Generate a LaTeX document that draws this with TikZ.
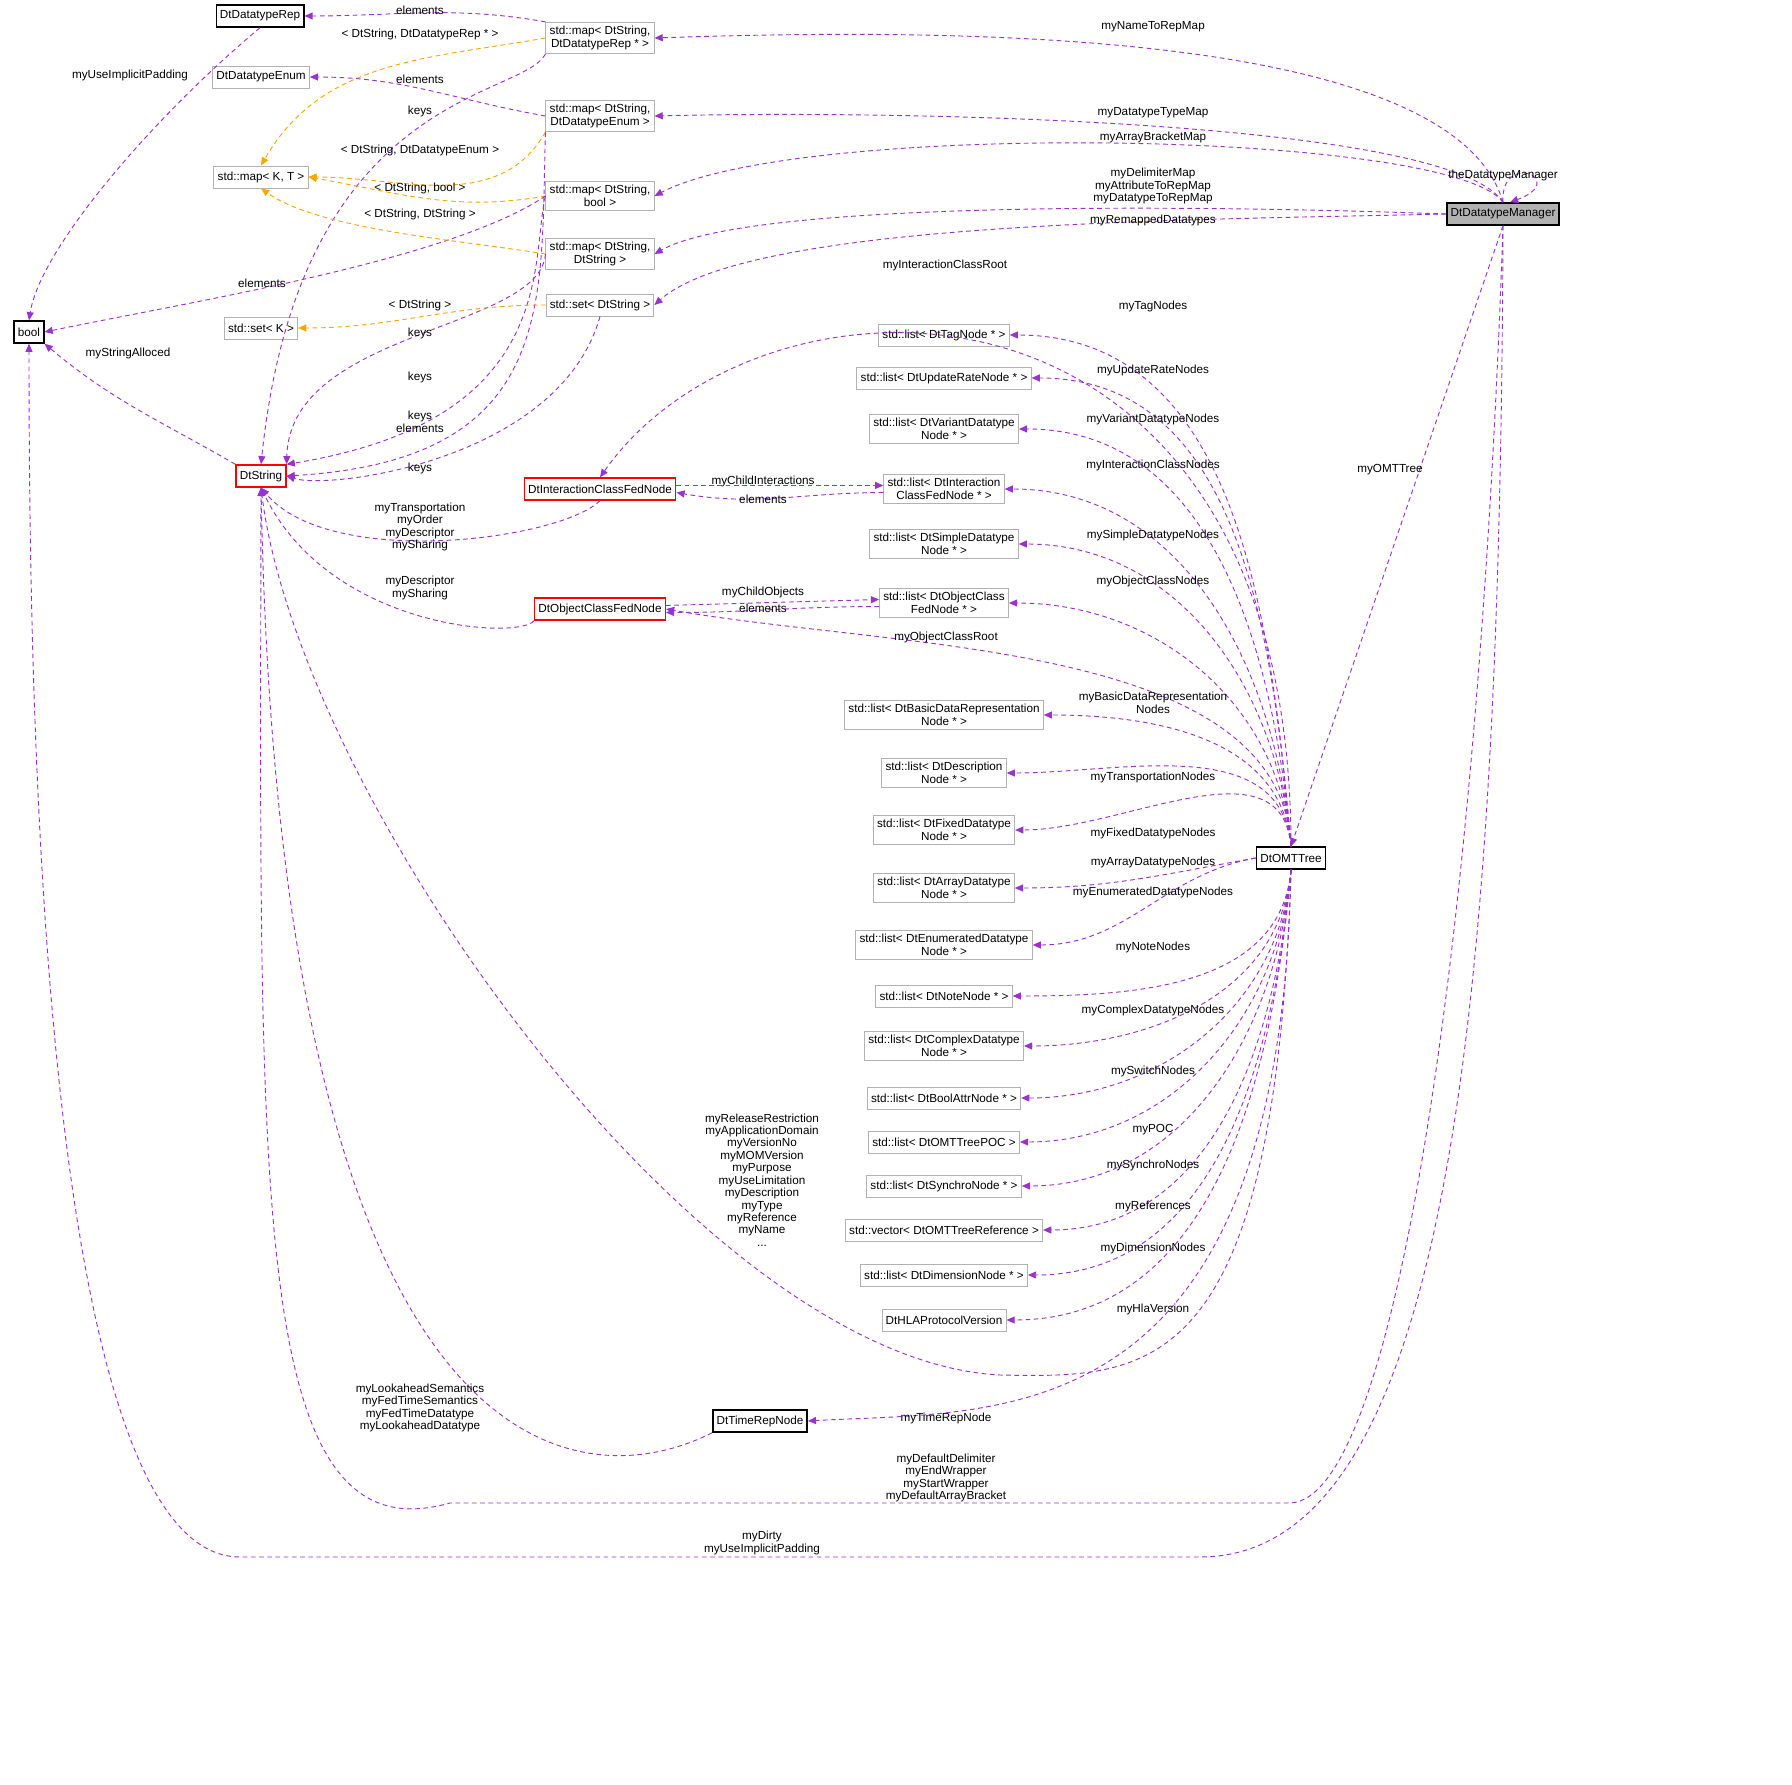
\documentclass[tikz,border=0pt]{standalone}
\usepackage{fontspec}
\setmainfont{Liberation Sans}
\usetikzlibrary{arrows.meta}
\definecolor{edgepurple}{HTML}{9A32CD}
\definecolor{tmplorange}{HTML}{FFA500}
\tikzset{
  box/.style={draw=black, semithick, fill=white, font=\fontsize{5}{5.5}\selectfont, minimum height=0.33cm, inner sep=1.6pt, align=center},
  ext/.style={box, draw=gray!60, thin},
  redbox/.style={box, draw=red},
  lbl/.style={font=\fontsize{5}{5.3}\selectfont, align=center, inner sep=0pt},
  uses/.style={draw=edgepurple, dashed, thin, dash pattern=on 2pt off 1.5pt, -{Triangle[length=3.5pt,width=3pt]}},
  tmpl/.style={draw=tmplorange, dashed, thin, dash pattern=on 2pt off 1.5pt, -{Triangle[length=3.5pt,width=3pt]}}
}
\begin{document}
\begin{tikzpicture}[x=0.015cm, y=-0.015cm]
        \useasboundingbox (0,0) rectangle (1792,1785);

        % classes on the left
        \node[box] (rep) at (260,16) {DtDatatypeRep};
        \node[ext] (enum) at (261,77) {DtDatatypeEnum};
        \node[ext] (mapkt) at (261,177) {std::map\textless{} K, T \textgreater};
        \node[ext] (setk) at (261,328) {std::set\textless{} K \textgreater};
        \node[box] (bool) at (29,332) {bool};
        \node[redbox] (dtstring) at (261,476) {DtString};

        % containers
        \node[ext] (maprep) at (600,38) {std::map\textless{} DtString,\\DtDatatypeRep * \textgreater};
        \node[ext] (mapenum) at (600,116) {std::map\textless{} DtString,\\DtDatatypeEnum \textgreater};
        \node[ext] (mapbool) at (600,196) {std::map\textless{} DtString,\\bool \textgreater};
        \node[ext] (mapstr) at (600,254) {std::map\textless{} DtString,\\DtString \textgreater};
        \node[ext] (setstr) at (600,305) {std::set\textless{} DtString \textgreater};
        \node[redbox] (intfed) at (600,489) {DtInteractionClassFedNode};
        \node[redbox] (objfed) at (600,609) {DtObjectClassFedNode};
        \node[box] (timerep) at (760,1421) {DtTimeRepNode};

        % lists of nodes
        \node[ext] (tag) at (944,335) {std::list\textless{} DtTagNode * \textgreater};
        \node[ext] (upd) at (944,378) {std::list\textless{} DtUpdateRateNode * \textgreater};
        \node[ext] (var) at (944,429) {std::list\textless{} DtVariantDatatype\\Node * \textgreater};
        \node[ext] (lint) at (944,489) {std::list\textless{} DtInteraction\\ClassFedNode * \textgreater};
        \node[ext] (simp) at (944,544) {std::list\textless{} DtSimpleDatatype\\Node * \textgreater};
        \node[ext] (lobj) at (944,603) {std::list\textless{} DtObjectClass\\FedNode * \textgreater};
        \node[ext] (basic) at (944,715) {std::list\textless{} DtBasicDataRepresentation\\Node * \textgreater};
        \node[ext] (desc) at (944,773) {std::list\textless{} DtDescription\\Node * \textgreater};
        \node[ext] (fixed) at (944,830) {std::list\textless{} DtFixedDatatype\\Node * \textgreater};
        \node[ext] (arr) at (944,888) {std::list\textless{} DtArrayDatatype\\Node * \textgreater};
        \node[ext] (enumd) at (944,945) {std::list\textless{} DtEnumeratedDatatype\\Node * \textgreater};
        \node[ext] (note) at (944,996) {std::list\textless{} DtNoteNode * \textgreater};
        \node[ext] (cplx) at (944,1046) {std::list\textless{} DtComplexDatatype\\Node * \textgreater};
        \node[ext] (boolattr) at (944,1098) {std::list\textless{} DtBoolAttrNode * \textgreater};
        \node[ext] (poc) at (944,1142) {std::list\textless{} DtOMTTreePOC \textgreater};
        \node[ext] (sync) at (944,1186) {std::list\textless{} DtSynchroNode * \textgreater};
        \node[ext] (refs) at (944,1230) {std::vector\textless{} DtOMTTreeReference \textgreater};
        \node[ext] (dim) at (944,1275) {std::list\textless{} DtDimensionNode * \textgreater};
        \node[ext] (hla) at (944,1320) {DtHLAProtocolVersion};

        \node[box] (omt) at (1291,858) {DtOMTTree};
        \node[box, fill=gray!60] (mgr) at (1503,214) {DtDatatypeManager};

        % container edges
        \draw[uses] (maprep.north west) to[out=170,in=0] (rep.east);
        \draw[tmpl] (maprep.west) to[out=190,in=60] (mapkt.north);
        \draw[uses] (maprep.south west) .. controls (520,100) and (300,90) .. (dtstring.north);
        \draw[uses] (mapenum.west) to[out=170,in=0] (enum.east);
        \draw[tmpl] (mapenum.south west) to[out=240,in=0] (mapkt.east);
        \draw[uses] (mapenum.south west) .. controls (540,300) and (560,460) .. (dtstring.east);
        \draw[tmpl] (mapbool.west) to[out=190,in=-10] (mapkt.east);
        \draw[uses] (mapbool.west) .. controls (530,260) and (560,420) .. (dtstring.north east);
        \draw[uses] (mapbool.west) .. controls (450,260) and (200,300) .. (bool.east);
        \draw[tmpl] (mapstr.west) .. controls (460,240) and (320,230) .. (mapkt.south);
        \draw[uses] (mapstr.west) .. controls (540,330) and (290,330) .. (dtstring.north east);
        \draw[tmpl] (setstr.west) to[out=180,in=0] (setk.east);
        \draw[uses] (setstr.south) .. controls (560,460) and (330,490) .. (dtstring.east);
        \draw[uses] (rep.south) .. controls (150,120) and (40,250) .. (bool.north);
        \draw[uses] (dtstring.north west) to[out=150,in=-40] (bool.south east);

        % fed nodes
        \draw[uses] (intfed.south) .. controls (560,540) and (330,570) .. (dtstring.south);
        \draw[uses] ([yshift=1.5pt]intfed.east) -- ([yshift=1.5pt]lint.west);
        \draw[uses] ([yshift=-1.5pt]lint.west) to[out=180,in=-10] ([yshift=-1.5pt]intfed.east);
        \draw[uses] (objfed.south west) .. controls (520,640) and (330,630) .. (dtstring.south);
        \draw[uses] ([yshift=1.5pt]objfed.east) -- ([yshift=1.5pt]lobj.west);
        \draw[uses] ([yshift=-1.5pt]lobj.west) to[out=180,in=0] ([yshift=-1.5pt]objfed.east);

        % tree edges
        \draw[uses] (omt.north) .. controls (1290,240) and (760,250) .. (intfed.north);
        \foreach \t in {tag,upd,var,lint,simp,lobj,basic,desc,fixed}
          \draw[uses] (omt.north) to[out=95,in=0] (\t.east);
        \draw[uses] (omt.north) .. controls (1280,640) and (900,650) .. (objfed.east);
        \foreach \t in {arr,enumd}
          \draw[uses] (omt.west) to[out=190,in=0] (\t.east);
        \foreach \t in {note,cplx,boolattr,poc,sync,refs,dim,hla}
          \draw[uses] (omt.south) to[out=-95,in=0] (\t.east);
        \draw[uses] (omt.south) .. controls (1280,1440) and (1000,1410) .. (timerep.east);
        \draw[uses] (omt.south) .. controls (1275,1380) and (1150,1378) .. (1000,1375) .. controls (700,1360) and (300,800) .. (dtstring.south);
        \draw[uses] (timerep.south west) .. controls (580,1500) and (280,1480) .. (dtstring.south);

        % manager edges
        \draw[uses] (mgr.north) .. controls (1450,20) and (900,30) .. (maprep.east);
        \draw[uses] (mgr.north) .. controls (1450,120) and (900,110) .. (mapenum.east);
        \draw[uses] (mgr.north) .. controls (1450,130) and (800,120) .. (mapbool.east);
        \draw[uses] (mgr.west) .. controls (1200,205) and (750,200) .. (mapstr.east);
        \draw[uses] (mgr.west) .. controls (1200,220) and (750,220) .. (setstr.east);
        \draw[uses] (mgr.north) .. controls (1500,150) and (1570,180) .. ([xshift=3pt]mgr.north);
        \draw[uses] (mgr.south) -- (omt.north);
        \draw[uses] (mgr.south) .. controls (1480,900) and (1400,1500) .. (1290,1503) -- (450,1503) .. controls (250,1560) and (260,1200) .. (dtstring.south);
        \draw[uses] (mgr.south) .. controls (1500,1000) and (1450,1557) .. (1200,1557) -- (240,1557) .. controls (40,1557) and (29,700) .. (bool.south);

        % labels
        \node[lbl] at (420,10) {elements};
        \node[lbl] at (420,34) {\textless{} DtString, DtDatatypeRep * \textgreater};
        \node[lbl] at (420,79) {elements};
        \node[lbl] at (420,111) {keys};
        \node[lbl] at (420,150) {\textless{} DtString, DtDatatypeEnum \textgreater};
        \node[lbl] at (420,188) {\textless{} DtString, bool \textgreater};
        \node[lbl] at (420,214) {\textless{} DtString, DtString \textgreater};
        \node[lbl] at (262,283) {elements};
        \node[lbl] at (420,305) {\textless{} DtString \textgreater};
        \node[lbl] at (420,333) {keys};
        \node[lbl] at (420,377) {keys};
        \node[lbl] at (420,422) {keys\\elements};
        \node[lbl] at (420,468) {keys};
        \node[lbl] at (130,75) {myUseImplicitPadding};
        \node[lbl] at (128,353) {myStringAlloced};
        \node[lbl] at (420,527) {myTransportation\\myOrder\\myDescriptor\\mySharing};
        \node[lbl] at (420,588) {myDescriptor\\mySharing};
        \node[lbl] at (763,481) {myChildInteractions};
        \node[lbl] at (763,499) {elements};
        \node[lbl] at (763,592) {myChildObjects};
        \node[lbl] at (763,608) {elements};
        \node[lbl] at (945,265) {myInteractionClassRoot};
        \node[lbl] at (1153,306) {myTagNodes};
        \node[lbl] at (1153,370) {myUpdateRateNodes};
        \node[lbl] at (1153,419) {myVariantDatatypeNodes};
        \node[lbl] at (1153,465) {myInteractionClassNodes};
        \node[lbl] at (1153,535) {mySimpleDatatypeNodes};
        \node[lbl] at (1153,581) {myObjectClassNodes};
        \node[lbl] at (946,637) {myObjectClassRoot};
        \node[lbl] at (1153,703) {myBasicDataRepresentation\\Nodes};
        \node[lbl] at (1153,777) {myTransportationNodes};
        \node[lbl] at (1153,833) {myFixedDatatypeNodes};
        \node[lbl] at (1153,862) {myArrayDatatypeNodes};
        \node[lbl] at (1153,892) {myEnumeratedDatatypeNodes};
        \node[lbl] at (1153,947) {myNoteNodes};
        \node[lbl] at (1153,1010) {myComplexDatatypeNodes};
        \node[lbl] at (1153,1071) {mySwitchNodes};
        \node[lbl] at (1153,1130) {myPOC};
        \node[lbl] at (1153,1165) {mySynchroNodes};
        \node[lbl] at (1153,1206) {myReferences};
        \node[lbl] at (1153,1248) {myDimensionNodes};
        \node[lbl] at (1153,1309) {myHlaVersion};
        \node[lbl] at (946,1418) {myTimeRepNode};
        \node[lbl] at (762,1180) {myReleaseRestriction\\myApplicationDomain\\myVersionNo\\myMOMVersion\\myPurpose\\myUseLimitation\\myDescription\\myType\\myReference\\myName\\...};
        \node[lbl] at (420,1408) {myLookaheadSemantics\\myFedTimeSemantics\\myFedTimeDatatype\\myLookaheadDatatype};
        \node[lbl] at (1153,27) {myNameToRepMap};
        \node[lbl] at (1153,113) {myDatatypeTypeMap};
        \node[lbl] at (1153,137) {myArrayBracketMap};
        \node[lbl] at (1153,186) {myDelimiterMap\\myAttributeToRepMap\\myDatatypeToRepMap};
        \node[lbl] at (1153,220) {myRemappedDatatypes};
        \node[lbl] at (1503,175) {theDatatypeManager};
        \node[lbl] at (1390,470) {myOMTTree};
        \node[lbl] at (946,1478) {myDefaultDelimiter\\myEndWrapper\\myStartWrapper\\myDefaultArrayBracket};
        \node[lbl] at (762,1543) {myDirty\\myUseImplicitPadding};
\end{tikzpicture}
\end{document}
